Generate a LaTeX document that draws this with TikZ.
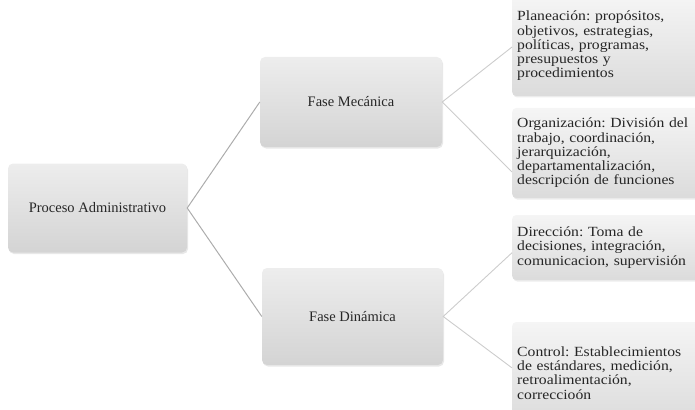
\documentclass[tikz,border=0pt]{standalone}
\usepackage{fontspec}
\setmainfont{Liberation Serif}
\newfontfamily\widefont[FakeStretch=1.12]{Liberation Serif}
\usetikzlibrary{calc,shadows}

\tikzset{
  box/.style={rounded corners=5pt, inner sep=0pt, text=black!85,
    top color=gray!14, bottom color=gray!34, draw=none,
    drop shadow={opacity=0.18, shadow xshift=1pt, shadow yshift=-1.5pt},
    font=\fontsize{14.5}{16}\selectfont\frenchspacing},
  leaf/.style={rounded corners=4pt, inner xsep=5pt, inner ysep=0pt,
    text=black!85, top color=gray!8, bottom color=gray!28, draw=none,
    drop shadow={opacity=0.15, shadow xshift=1pt, shadow yshift=-1.5pt},
    align=left, text width=180pt, anchor=west,
    font=\widefont\fontsize{14}{14.3}\selectfont\frenchspacing},
  trunk/.style={draw=gray!65, line width=1pt},
  twig/.style={draw=gray!40, line width=0.9pt},
}

\begin{document}
\begin{tikzpicture}[x=1pt,y=-1pt]
\useasboundingbox (0,0) rectangle (695,409);

% first two levels
\node[box, minimum width=179pt, minimum height=89pt] (root) at (97.5,208) {Proceso Administrativo};
\node[box, minimum width=182pt, minimum height=90pt] (mec) at (351,102) {Fase Mecánica};
\node[box, minimum width=181pt, minimum height=97pt] (din) at (352.5,316.5) {Fase Dinámica};

% detail boxes
\node[leaf, minimum height=100pt] (plan) at (512,46) {Planeación: propósitos,\\objetivos, estrategias,\\políticas, programas,\\presupuestos y\\procedimientos};
\node[leaf, minimum height=90pt] (org) at (512,153) {Organización: División del\\trabajo, coordinación,\\jerarquización,\\departamentalización,\\descripción de funciones};
\node[leaf, minimum height=65pt] (dir) at (512,247.5) {Dirección: Toma de\\decisiones, integración,\\comunicacion, supervisión};
\node[leaf, minimum height=102pt] (ctrl) at (512,373) {Control: Establecimientos\\de estándares, medición,\\retroalimentación,\\correccioón};

% connectors
\draw[trunk] (mec.west) -- (root.east) -- (din.west);
\draw[twig] ($(plan.north west)!0.51!(plan.south west)$) -- (mec.east) -- ($(org.north west)!0.71!(org.south west)$);
\draw[twig] ($(dir.north west)!0.58!(dir.south west)$) -- (din.east) -- ($(ctrl.north west)!0.45!(ctrl.south west)$);
\end{tikzpicture}
\end{document}
